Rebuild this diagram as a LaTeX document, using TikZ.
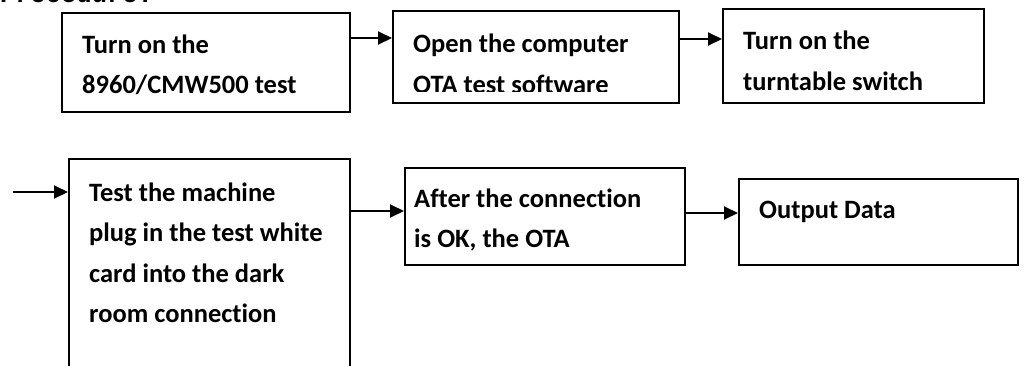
\documentclass[tikz,border=0pt]{standalone}
\usepackage{fontspec}
\setmainfont{Carlito}[Ligatures=NoCommon]
\newfontfamily\headfont{Liberation Mono}
\usetikzlibrary{positioning,arrows.meta,shapes}

\begin{document}
\begin{tikzpicture}[x=1pt,y=-1pt,
    box/.style={draw,line width=1.6pt,inner sep=0pt,anchor=north west},
    txt/.style={anchor=base west,inner sep=0pt,align=left,font=\fontsize{26.5}{40.5}\selectfont\bfseries},
    arr/.style={line width=2pt,-{Triangle[length=14pt,width=13pt]}}]
\useasboundingbox (0,0) rectangle (1026,365);
\clip (0,0) rectangle (1026,365);
\node[anchor=base west,inner sep=0pt,outer sep=0pt,font=\fontsize{25.5}{30}\selectfont\headfont\bfseries] (head) at (0,2) {Procedure:};
\node[box,minimum width=288pt,minimum height=99pt] (b1) at (61,12) {};
\node[box,minimum width=286pt,minimum height=92pt] (b2) at (392,10) {};
\node[box,minimum width=261pt,minimum height=94pt] (b3) at (722,8) {};
\node[box,minimum width=281pt,minimum height=240pt] (b4) at (68,158) {};
\node[box,minimum width=280pt,minimum height=97pt] (b5) at (404,167) {};
\node[box,minimum width=279pt,minimum height=86pt] (b6) at (738,178) {};
% base anchor sits on the last line
\node[txt] (t1) at (82,93.5) {Turn on the\\8960/CMW500 test};
\begin{scope}
  \clip (b2.north west) rectangle ([yshift=12pt]b2.south east);
  \node[txt] (t2) at (413,93) {Open the computer\\OTA test software};
\end{scope}
\node[txt] (t3) at (743,90) {Turn on the\\turntable switch};
\node[txt] (t4) at (89,322.5) {Test the machine\\plug in the test white\\card into the dark\\room connection};
\node[txt] (t5) at (414,247.5) {After the connection\\is OK, the OTA};
\node[txt] (t6) at (759,218) {Output Data};
\coordinate (in) at (13,192);
\draw[arr] ([yshift=-26pt]b1.north east) -- ([yshift=-28pt]b2.north west);
\draw[arr] ([yshift=-29pt]b2.north east) -- ([yshift=-31pt]b3.north west);
\draw[arr] (in) -- (in -| b4.west);
\draw[arr] ([yshift=-53pt]b4.north east) -- ([yshift=-44pt]b5.north west);
\draw[arr] ([yshift=-46pt]b5.north east) -- ([yshift=-35pt]b6.north west);
\end{tikzpicture}
\end{document}
